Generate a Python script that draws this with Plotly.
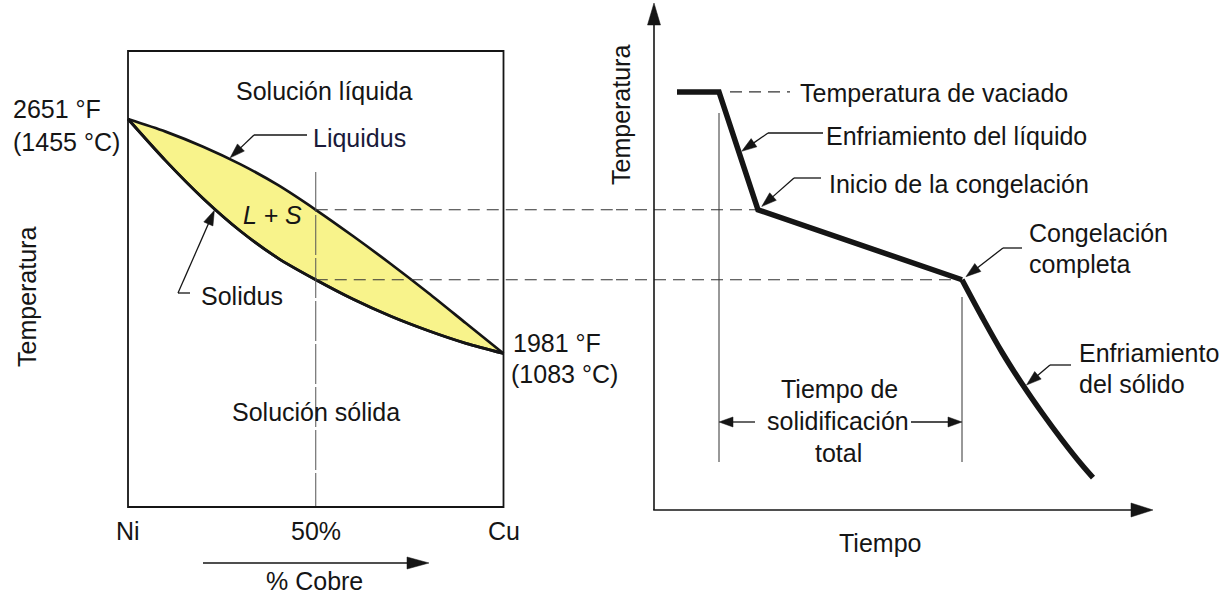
import math
import numpy as np
import plotly.graph_objects as go

# ---------------- data ----------------
cu_pct = [0, 10, 20, 30, 40, 50, 60, 70, 80, 90, 100]
liquidus_c = [1455, 1435, 1411, 1383, 1350, 1311, 1269, 1225, 1179, 1131, 1083]
solidus_c = [1455, 1389, 1329, 1277, 1234, 1200, 1169, 1142, 1119, 1099, 1083]
alloy_cu = 50
comp_ticks = [0, 50, 100]
comp_tick_text = ["Ni", "50%", "Cu"]
ni_melt_text = ["2651 °F", "(1455 °C)"]
cu_melt_text = ["1981 °F", "(1083 °C)"]

# cooling curve (arbitrary time units, °C)
cool_time = [4.6, 13.0, 20.8, 61.6]
cool_temp = [1498, 1498, 1311, 1200]
solid_time = [61.6, 65.6, 69.6, 73.6, 77.6, 81.6, 85.6, 87.8]
solid_temp = [1200, 1141, 1085, 1035, 989, 946, 906, 886]

# ---------------- layout calibration ----------------
W, H = 1232, 596
SPLIT = 616
INK = "#151515"
YELLOW = "#f8f38b"
FONT = "Liberation Sans, Arial, Helvetica, sans-serif"
FS = 25

C0_PX, C100_PX = 128.0, 503.5
THI, TLO = 1455.0, 1083.0
THI_PX, TLO_PX = 119.0, 353.5
DPP = (THI - TLO) / (TLO_PX - THI_PX)
T0_PX, PX_PER_T = 654.0, 5.0


def T_of(py):
    return THI - (py - THI_PX) * DPP


def py_of(T):
    return THI_PX + (THI - T) / DPP


def C_of(px):
    return (px - C0_PX) * 100.0 / (C100_PX - C0_PX)


def pxC(c):
    return C0_PX + c * (C100_PX - C0_PX) / 100.0


def t_of(px):
    return (px - T0_PX) / PX_PER_T


def pxt(t):
    return T0_PX + t * PX_PER_T


def X(px):
    return px / W


def Y(py):
    return 1 - py / H


fig = go.Figure()

# ---------- left: phase diagram ----------
LENS_LINE = dict(color=INK, width=2.7, shape="spline", smoothing=0.8)
fig.add_trace(go.Scatter(x=cu_pct, y=solidus_c, mode="lines", line=LENS_LINE,
                         xaxis="x", yaxis="y", hoverinfo="skip"))
fig.add_trace(go.Scatter(x=cu_pct, y=liquidus_c, mode="lines", fill="tonexty",
                         fillcolor=YELLOW, line=LENS_LINE,
                         xaxis="x", yaxis="y", hoverinfo="skip"))
fig.add_trace(go.Scatter(x=cu_pct, y=solidus_c, mode="lines", line=LENS_LINE,
                         xaxis="x", yaxis="y", hoverinfo="skip"))

liq50 = float(np.interp(alloy_cu, cu_pct, liquidus_c))
sol50 = float(np.interp(alloy_cu, cu_pct, solidus_c))

# alloy composition line
fig.add_trace(go.Scatter(x=[alloy_cu, alloy_cu], y=[T_of(172), T_of(507)], mode="lines",
                         line=dict(color="#555555", width=1, dash="40px,3px"),
                         xaxis="x", yaxis="y", hoverinfo="skip"))

# dashed projections (left part + right part)
for T_left, t_right, T_right in [(liq50, cool_time[2], cool_temp[2]),
                                 (sol50, cool_time[3], cool_temp[3])]:
    fig.add_trace(go.Scatter(x=[alloy_cu, C_of(SPLIT)], y=[T_left, T_left], mode="lines",
                             line=dict(color="#333333", width=1.2, dash="12px,7px"),
                             xaxis="x", yaxis="y", hoverinfo="skip"))
    fig.add_trace(go.Scatter(x=[t_of(SPLIT), t_right], y=[T_right, T_right], mode="lines",
                             line=dict(color="#333333", width=1.2, dash="12px,7px"),
                             xaxis="x2", yaxis="y", hoverinfo="skip"))

# ---------- right: cooling curve ----------
fig.add_trace(go.Scatter(x=cool_time, y=cool_temp, mode="lines",
                         line=dict(color=INK, width=5.5),
                         xaxis="x2", yaxis="y", hoverinfo="skip"))
fig.add_trace(go.Scatter(x=solid_time, y=solid_temp, mode="lines",
                         line=dict(color=INK, width=5.5, shape="spline", smoothing=1.0),
                         xaxis="x2", yaxis="y", hoverinfo="skip"))

# pouring temperature dashed
fig.add_trace(go.Scatter(x=[t_of(730), t_of(790)], y=[cool_temp[0]] * 2, mode="lines",
                         line=dict(color="#333333", width=1.2, dash="12px,7px"),
                         xaxis="x2", yaxis="y", hoverinfo="skip"))
# vertical markers of total solidification time
fig.add_trace(go.Scatter(x=[cool_time[1]] * 2, y=[T_of(113), T_of(462)], mode="lines",
                         line=dict(color="#333333", width=1),
                         xaxis="x2", yaxis="y", hoverinfo="skip"))
fig.add_trace(go.Scatter(x=[cool_time[3]] * 2, y=[T_of(297), T_of(462)], mode="lines",
                         line=dict(color="#333333", width=1),
                         xaxis="x2", yaxis="y", hoverinfo="skip"))

shapes = []
annotations = []

# left frame
shapes.append(dict(type="rect", xref="x", yref="y", x0=0, x1=100,
                   y0=T_of(507), y1=T_of(51), line=dict(color=INK, width=1.8)))


def arrow_px(tip, tail, L=15, w=10, lw=1.3, standoff=0):
    """Line from tail to tip (pixel coords) with a filled, elongated head."""
    dx, dy = tip[0] - tail[0], tip[1] - tail[1]
    n = math.hypot(dx, dy)
    ux, uy = dx / n, dy / n
    tx, ty = tip[0] - standoff * ux, tip[1] - standoff * uy
    bx, by = tx - L * ux, ty - L * uy
    px_, py_ = -uy * w / 2, ux * w / 2
    shapes.append(dict(type="line", xref="paper", yref="paper",
                       x0=X(tail[0]), y0=Y(tail[1]), x1=X(bx + ux * 2), y1=Y(by + uy * 2),
                       line=dict(color=INK, width=lw)))
    path = "M{:.5f},{:.5f} L{:.5f},{:.5f} L{:.5f},{:.5f} Z".format(
        X(tx), Y(ty), X(bx + px_), Y(by + py_), X(bx - px_), Y(by - py_))
    shapes.append(dict(type="path", xref="paper", yref="paper", path=path,
                       fillcolor=INK, line=dict(color=INK, width=0.5)))


def line_px(a, b, lw=1.3):
    shapes.append(dict(type="line", xref="paper", yref="paper",
                       x0=X(a[0]), y0=Y(a[1]), x1=X(b[0]), y1=Y(b[1]),
                       line=dict(color=INK, width=lw)))


def leader(tip, bend, end, standoff=0):
    arrow_px(tip, bend, standoff=standoff)
    line_px(bend, end)


# leaders on phase diagram (tips located on the curves through the data)
c_l = C_of(229)
leader((pxC(c_l), py_of(np.interp(c_l, cu_pct, liquidus_c))), (254, 135), (307, 135),
       standoff=1.5)
c_s = C_of(215)
leader((pxC(c_s), py_of(np.interp(c_s, cu_pct, solidus_c))), (178, 293), (190, 293),
       standoff=1.5)

# leaders on cooling curve
T_a = T_of(153)
t_a = float(np.interp(-T_a, [-cool_temp[1], -cool_temp[2]], [cool_time[1], cool_time[2]]))
leader((pxt(t_a), py_of(T_a)), (768, 133), (823, 133), standoff=3)
leader((pxt(cool_time[2]), py_of(cool_temp[2])), (794, 178), (821, 178), standoff=5)
leader((pxt(cool_time[3]), py_of(cool_temp[3])), (1003, 248), (1022, 248), standoff=5)
T_b = T_of(387)
t_b = float(np.interp(-T_b, [-v for v in solid_temp], solid_time))
leader((pxt(t_b), py_of(T_b)), (1050, 365), (1071, 365), standoff=3)

# axes of cooling curve
origin = (pxt(0), 510)
arrow_px((pxt(0), 3), origin, L=22, w=13, lw=1.6)
arrow_px((1153, 510), (pxt(0) - 0.8, 510), L=22, w=14, lw=1.6)

# total solidification time double arrow
y_arr = 422
arrow_px((pxt(cool_time[1]), y_arr), (755, y_arr), L=14, w=10, lw=1.3)
arrow_px((pxt(cool_time[3]), y_arr), (911, y_arr), L=14, w=10, lw=1.3)

# % Cobre arrow
arrow_px((429, 563), (203, 563), L=22, w=12, lw=1.6)


def text(s, px, py, anchor="left", angle=0, size=FS, color=INK):
    annotations.append(dict(text=s, x=X(px), y=Y(py), xref="paper", yref="paper",
                            showarrow=False, xanchor=anchor, yanchor="middle",
                            textangle=angle, font=dict(family=FONT, size=size, color=color)))


text("Solución líquida", 324, 91, "center")
text("Liquidus", 311, 138, "left", color="#1a1a3a")
text("<i>L + S</i>", 272, 215, "center")
text("Solidus", 199, 296, "left")
text(ni_melt_text[0], 11, 109, "left")
text(ni_melt_text[1], 11, 142, "left")
text(cu_melt_text[0], 511, 343, "left")
text(cu_melt_text[1], 509, 374, "left")
text("Solución sólida", 316, 412, "center")
text("% Cobre", 314, 581, "center")
text("Temperatura", 27, 297, "center", angle=-90)
for v, s in zip(comp_ticks, comp_tick_text):
    annotations.append(dict(text=s, x=v, y=Y(531), xref="x", yref="paper", showarrow=False,
                            xanchor="center", yanchor="middle",
                            font=dict(family=FONT, size=FS, color=INK)))

text("Temperatura", 621, 115, "center", angle=-90)
text("Temperatura de vaciado", 798, 93, "left")
text("Enfriamiento del líquido", 824, 136, "left")
text("Inicio de la congelación", 827, 184, "left")
text("Congelación", 1027, 233, "left")
text("completa", 1027, 264, "left")
text("Enfriamiento", 1077, 353, "left")
text("del sólido", 1077, 384, "left")
text("Tiempo de", 840, 389, "center")
text("solidificación", 838, 421, "center")
text("total", 838, 453, "center")
text("Tiempo", 880, 543, "center")

fig.update_layout(
    width=W, height=H, margin=dict(l=0, r=0, t=0, b=0),
    paper_bgcolor="white", plot_bgcolor="rgba(0,0,0,0)", showlegend=False,
    xaxis=dict(domain=[0, SPLIT / W], range=[C_of(0), C_of(SPLIT)], visible=False,
               fixedrange=True),
    xaxis2=dict(domain=[SPLIT / W, 1], range=[t_of(SPLIT), t_of(W)], visible=False,
                anchor="y", fixedrange=True),
    yaxis=dict(domain=[0, 1], range=[T_of(H), T_of(0)], visible=False, fixedrange=True),
    shapes=shapes, annotations=annotations,
)

fig.write_html("out.html", config={"displayModeBar": False},
               post_script="document.body.style.margin='0';")
